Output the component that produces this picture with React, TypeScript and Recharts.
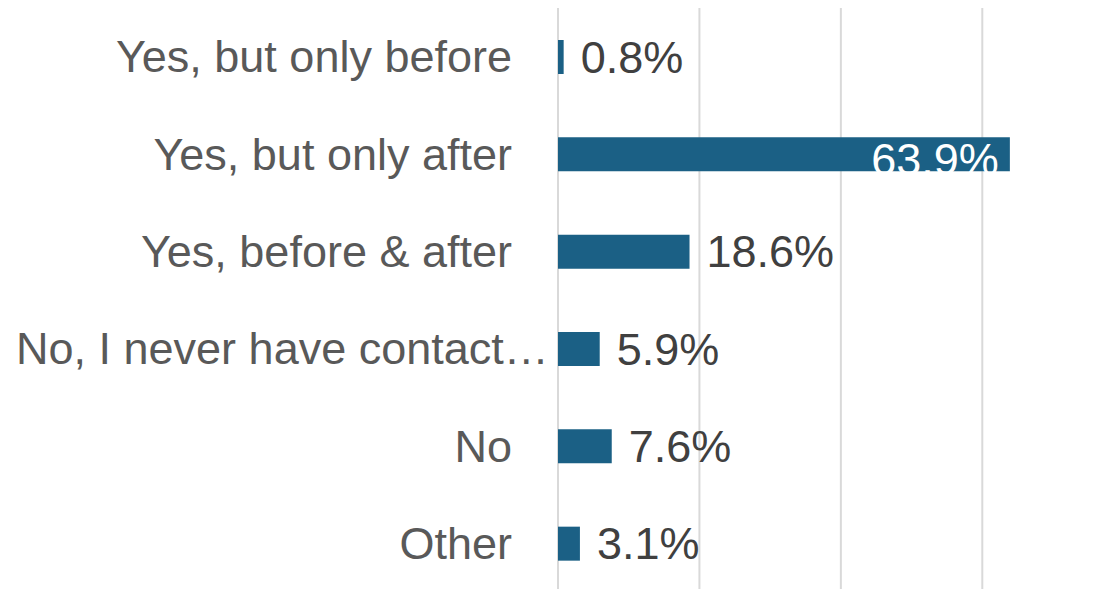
import { BarChart, Bar, XAxis, YAxis, CartesianGrid, LabelList } from "recharts";

const categories = [
  "Yes, but only before",
  "Yes, but only after",
  "Yes, before & after",
  "No, I never have contact…",
  "No",
  "Other",
];
const shares = [0.8, 63.9, 18.6, 5.9, 7.6, 3.1];
const gridTicks = [0, 20, 40, 60];
const X_MAX = 70;

const data = categories.map((name, i) => ({ name, value: shares[i] }));

const FONT = "'Liberation Sans', Arial, sans-serif";

// value labels: white inside the bar when it's long, dark outside otherwise
const renderValue = (props: any) => {
  const { x, y, width, height, value } = props;
  const cy = y + height / 2;
  if (value > 50) {
    return (
      <text x={x + width - 11} y={cy + 5} textAnchor="end" dominantBaseline="central" fill="#ffffff" fontSize={45} fontFamily={FONT}>
        {value.toFixed(1)}%
      </text>
    );
  }
  return (
    <text x={x + width + 17} y={cy} textAnchor="start" dominantBaseline="central" fill="#404040" fontSize={45} fontFamily={FONT}>
      {value.toFixed(1)}%
    </text>
  );
};

// truncated labels get pushed to the left edge like Excel does
const CategoryTick = (props: any) => {
  const { x, y, payload } = props;
  const label: string = payload.value;
  const truncated = label.endsWith("…");
  return (
    <text
      x={truncated ? 16 : x - 38}
      y={y}
      textAnchor={truncated ? "start" : "end"}
      dominantBaseline="central"
      fill="#595959"
      fontSize={45}
      fontFamily={FONT}
    >
      {label}
    </text>
  );
};

// grid only at 0/20/40/60, not at the domain end
const gridX = ({ xAxis, offset }: any) =>
  gridTicks.map((t) => {
    const s = xAxis && xAxis.scale;
    if (typeof s === "function") return s(t);
    if (s && typeof s.map === "function") return s.map(t);
    return offset.left + (t / X_MAX) * offset.width;
  });

export default function App() {
  return (
    <div style={{ position: "absolute", left: 0, top: 0 }}>
      <BarChart
        width={1114}
        height={592}
        data={data}
        layout="vertical"
        margin={{ top: 8, right: 61, bottom: 0, left: 0 }}
      >
        <CartesianGrid horizontal={false} stroke="#d9d9d9" strokeWidth={2} verticalCoordinatesGenerator={gridX} />
        <XAxis type="number" domain={[0, X_MAX]} ticks={gridTicks} hide />
        <YAxis
          type="category"
          dataKey="name"
          width={558}
          axisLine={false}
          tickLine={false}
          interval={0}
          tick={<CategoryTick />}
        />
        <Bar dataKey="value" fill="#1b6085" barSize={34} isAnimationActive={false}>
          <LabelList dataKey="value" content={renderValue} />
        </Bar>
      </BarChart>
    </div>
  );
}
